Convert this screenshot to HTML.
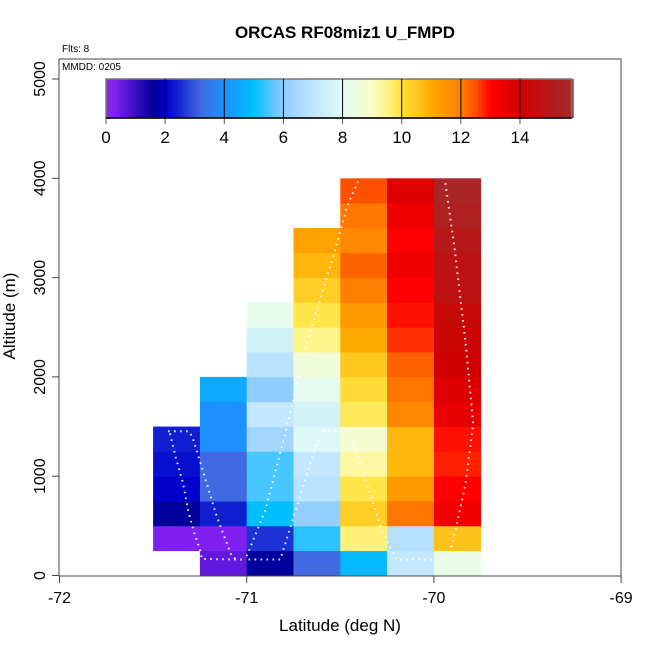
<!DOCTYPE html>
<html><head><meta charset="utf-8"><style>
html,body{margin:0;padding:0;background:#fff;}
svg{display:block;font-family:"Liberation Sans",Arial,sans-serif;}
</style></head><body>
<svg id="chart" width="650" height="650" viewBox="0 0 650 650" xmlns="http://www.w3.org/2000/svg">
<text x="345" y="38" text-anchor="middle" font-size="17" font-weight="bold">ORCAS RF08miz1 U_FMPD</text>
<text x="62" y="52" font-size="10">Flts: 8</text>
<g id="cells"></g>
<g id="tracks"></g>
<rect x="59" y="59" width="562" height="517" fill="none" stroke="#444" stroke-width="1"/>
<text x="62" y="70" font-size="10">MMDD: 0205</text>
<g id="cbar"></g>
<g id="axes"></g>
<text x="340" y="631" text-anchor="middle" font-size="17">Latitude (deg N)</text>
<text transform="translate(15,316) rotate(-90)" text-anchor="middle" font-size="17">Altitude (m)</text>
</svg>
<script>
const lats = [-71.5,-71.25,-71,-70.75,-70.5,-70.25,-70];
const colBase = [250,0,0,0,0,0,0];
const colValues = [
 [0.3,1.6,2.0,2.2,2.4],
 [0.6,0.3,2.4,3.2,3.2,4.0,4.0,4.5],
 [1.6,2.6,5.0,5.5,5.5,6.4,7.1,6.0,6.9,7.6,8.2],
 [3.2,5.3,6.1,6.9,7.1,7.9,7.6,8.1,8.6,9.5,9.9,10.4,10.8,11.2],
 [4.9,9.6,10.4,9.9,9.3,8.8,9.8,10.1,10.5,11.0,11.4,12.0,12.3,11.8,12.1,12.5],
 [7.1,6.8,12.1,11.4,10.8,10.8,11.8,12.1,12.3,12.7,12.9,13.0,13.3,13.0,13.3,13.7],
 [8.3,10.6,13.3,13.0,12.8,12.9,13.5,13.7,14.0,14.2,14.4,14.7,14.7,15.0,15.3,15.5]
];
const cellW = 0.25, cellH = 250;
const xTicks = [-72,-71,-70,-69];
const yTicks = [0,1000,2000,3000,4000,5000];
const cbTicks = [0,2,4,6,8,10,12,14];
const track1Lat = [-71.41,-71.38,-71.34,-71.31,-71.28,-71.25,-71.24,-71.02];
const track1Alt = [1430,1196,929,628,428,261,167,160];
const track2Lat = [-71.42,-71.31,-71.29,-71.23,-71.16,-71.08,-71.06];
const track2Alt = [1453,1453,1396,1029,595,194,167];
const track3Lat = [-71.00,-70.90,-70.79,-70.68,-70.54,-70.46,-70.40];
const track3Alt = [194,661,1463,2331,3200,3734,3988];
const track4Lat = [-70.99,-70.82,-70.76,-70.66,-70.60,-70.45,-70.38,-70.28,-70.20,-69.93,-69.90,-69.83,-69.79,-69.83,-69.89,-69.94];
const track4Alt = [161,161,528,1129,1456,1456,1062,461,160,160,327,929,1530,2331,3300,3968];

const stops=[[0,'#8a2be2'],[0.3,'#8020f0'],[1.6,'#00009a'],[2,'#0000cd'],[2.4,'#1020d0'],[3.2,'#4169e1'],[4,'#1e90ff'],[5,'#00bfff'],[6,'#90ccff'],[7,'#bfe5ff'],[8,'#e0fbf4'],[9,'#fcfcc8'],[9.5,'#fff48a'],[10,'#ffe03a'],[10.5,'#ffc820'],[11,'#ffaa00'],[12,'#ff8000'],[12.5,'#ff5000'],[13,'#ff0000'],[14,'#d00000'],[15.7,'#a52a2a']];
function hex(h){return [1,3,5].map(i=>parseInt(h.substr(i,2),16));}
function color(v){
 if(v<=stops[0][0])return stops[0][1];
 for(let i=1;i<stops.length;i++){ if(v<=stops[i][0]){
  const a=hex(stops[i-1][1]),b=hex(stops[i][1]),t=(v-stops[i-1][0])/(stops[i][0]-stops[i-1][0]);
  return 'rgb('+a.map((c,k)=>Math.round(c+(b[k]-c)*t)).join(',')+')';}}
 return stops[stops.length-1][1];
}
const X0=59.5,XS=187.2,Y0=575.5,YS=0.0993;
const sx=v=>X0+(v+72)*XS, sy=a=>Y0-a*YS;
const NS='http://www.w3.org/2000/svg';
function mk(tag,attrs,parent){const e=document.createElementNS(NS,tag);for(const k in attrs)e.setAttribute(k,attrs[k]);parent.appendChild(e);return e;}
const cells=document.getElementById('cells');
lats.forEach((lat,i)=>{colValues[i].forEach((v,j)=>{
 const a0=colBase[i]+j*cellH;
 const r=mk('rect',{x:sx(lat),y:sy(a0+cellH),width:sx(lat+cellW)-sx(lat)+0.4,height:sy(a0)-sy(a0+cellH)+0.4,fill:color(v)},cells);
 
 
});});
const tracks=document.getElementById('tracks');
[[track1Lat,track1Alt],[track2Lat,track2Alt],[track3Lat,track3Alt],[track4Lat,track4Alt]].forEach(t=>{
 const p=mk('polyline',{points:t[0].map((l,k)=>sx(l)+','+sy(t[1][k])).join(' '),fill:'none',stroke:'#fff','stroke-width':2,'stroke-dasharray':'1.6 4.4',opacity:0.9},tracks);
 
 
});
const axes=document.getElementById('axes');
xTicks.forEach(v=>{
 mk('line',{x1:sx(v),x2:sx(v),y1:576,y2:583,stroke:'#444'},axes);
 const t=mk('text',{x:sx(v),y:603,'text-anchor':'middle','font-size':16},axes);t.textContent=v;
 
 
});
yTicks.forEach(v=>{
 mk('line',{x1:52,x2:59,y1:sy(v),y2:sy(v),stroke:'#444'},axes);
 const t=mk('text',{transform:'translate(45,'+sy(v)+') rotate(-90)','text-anchor':'middle','font-size':16},axes);t.textContent=v;
 
 
});
const cb=document.getElementById('cbar');
const CX0=106,CXS=29.57,cbMax=15.75;
for(let v=0;v<cbMax;v+=0.1){mk('rect',{x:CX0+v*CXS,y:79,width:CXS*0.1+0.5,height:39,fill:color(v+0.05)},cb);}
mk('rect',{x:CX0,y:79,width:cbMax*CXS,height:39,fill:'none',stroke:'#777','stroke-width':1.5},cb);
cbTicks.forEach(v=>{
 if(v>0)mk('line',{x1:CX0+v*CXS,x2:CX0+v*CXS,y1:79,y2:118,stroke:'#000','stroke-width':1},cb);
 mk('line',{x1:CX0+v*CXS,x2:CX0+v*CXS,y1:118,y2:124,stroke:'#555'},cb);
 const t=mk('text',{x:CX0+v*CXS,y:143,'text-anchor':'middle','font-size':17},cb);t.textContent=v;
 
 
});
mk('line',{x1:CX0,x2:CX0+cbMax*CXS,y1:118,y2:118,stroke:'#000','stroke-width':1.5},cb);
</script>
</body></html>
